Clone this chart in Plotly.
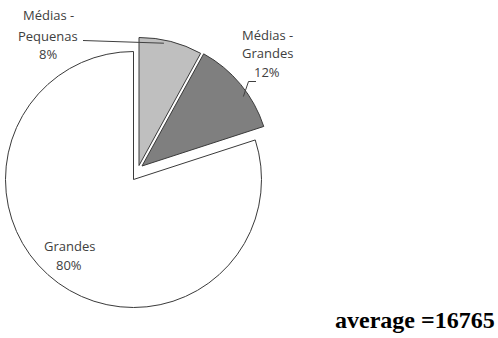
import math
import plotly.graph_objects as go

# ---- data ----
categories = ["Médias -<br>Pequenas", "Médias -<br>Grandes", "Grandes"]
values = [8, 12, 80]
colors = ["#bfbfbf", "#7f7f7f", "#ffffff"]
average_label = "average =16765"

W, H = 498, 338
R = 128                       # pie radius in px
CENTER = (133.5, 179.5)       # centre of the un-exploded pie
# explosion offset (px) for each slice
OFFSETS = [(5.5, -14.0), (8.5, -13.5), (0.0, 0.0)]

total = sum(values)
pct = [round(v / total * 100) for v in values]

fig = go.Figure()


def px2paper(x, y):
    return x / W, 1 - y / H


for i in range(len(values)):
    cx = CENTER[0] + OFFSETS[i][0]
    cy = CENTER[1] + OFFSETS[i][1]
    x0, y1 = px2paper(cx - R, cy - R)
    x1, y0 = px2paper(cx + R, cy + R)
    fc = [colors[j] if j == i else "rgba(0,0,0,0)" for j in range(len(values))]
    lw = [1.0 if j == i else 0 for j in range(len(values))]
    fig.add_trace(go.Pie(
        values=values,
        labels=categories,
        sort=False,
        direction="clockwise",
        rotation=0,
        marker=dict(colors=fc, line=dict(color="#3a3a3a", width=lw)),
        textinfo="none",
        hoverinfo="skip",
        showlegend=False,
        domain=dict(x=[x0, x1], y=[y0, y1]),
    ))

# slice geometry helpers (angles measured clockwise from 12 o'clock)
cum = [0]
for v in values:
    cum.append(cum[-1] + v)


def slice_point(i, frac_angle, frac_r):
    a = 2 * math.pi * (cum[i] + frac_angle * values[i]) / total
    cx = CENTER[0] + OFFSETS[i][0]
    cy = CENTER[1] + OFFSETS[i][1]
    return cx + frac_r * R * math.sin(a), cy - frac_r * R * math.cos(a)


font = dict(family="Open Sans", size=13, color="#404040")
annotations = []


def label(lines, x, ys):
    for t, y in zip(lines, ys):
        px, py = px2paper(x, y)
        annotations.append(dict(x=px, y=py, xref="paper", yref="paper",
                                text=t, showarrow=False, font=font,
                                xanchor="center", yanchor="middle"))


label(["Médias -", "Pequenas", f"{pct[0]}%"], 48, [15.5, 35.5, 54])
label(["Médias -", "Grandes", f"{pct[1]}%"], 267, [34.5, 53, 72])
label(["Grandes", f"{pct[2]}%"], 69, [245.5, 265])

# average text
ax, ay = px2paper(497, 320)
annotations.append(dict(x=ax, y=ay, xref="paper", yref="paper",
                        text=f"<b>{average_label}</b>", showarrow=False,
                        font=dict(family="Liberation Serif", size=24, color="#000000"),
                        xanchor="right", yanchor="middle"))

# leader lines
shapes = []
ex, ey = slice_point(0, 0.40, 0.975)
sx, sy = 83, 40.5
p1 = px2paper(sx, sy)
p2 = px2paper(ex, ey)
shapes.append(dict(type="line", xref="paper", yref="paper",
                   x0=p1[0], y0=p1[1], x1=p2[0], y1=p2[1],
                   line=dict(color="#404040", width=1)))

ex, ey = slice_point(1, 0.62, 0.96)
q0 = px2paper(256, 81.5)
q1 = px2paper(248.5, 81.5)
q2 = px2paper(ex, ey)
shapes.append(dict(type="path", xref="paper", yref="paper",
                   path=f"M {q0[0]} {q0[1]} L {q1[0]} {q1[1]} L {q2[0]} {q2[1]}",
                   line=dict(color="#404040", width=1)))

fig.update_layout(
    width=W, height=H,
    margin=dict(l=0, r=0, t=0, b=0),
    paper_bgcolor="#ffffff",
    plot_bgcolor="#ffffff",
    annotations=annotations,
    shapes=shapes,
)

fig.write_html("out.html")
